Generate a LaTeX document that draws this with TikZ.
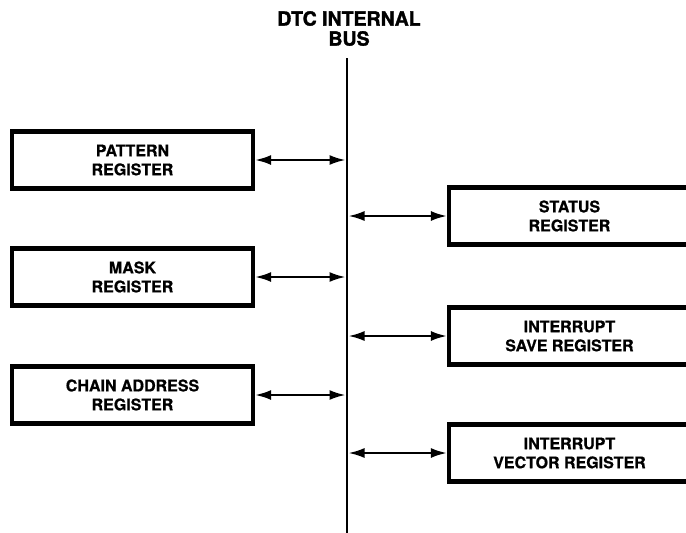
\documentclass[tikz,border=0pt]{standalone}
\usepackage{fontspec}
\setmainfont{TeX Gyre Heros}[BoldFeatures={FakeBold=0.8}]
\newfontfamily\headfont{TeX Gyre Heros Bold}[FakeBold=1.6]
\usetikzlibrary{arrows.meta}
\usetikzlibrary{positioning}

\begin{document}
\begin{tikzpicture}[x=1pt,y=-1pt,
  reg/.style={draw, line width=4.2pt, minimum width=241pt, minimum height=57pt,
              inner sep=0pt, align=center, font=\bfseries\fontsize{16}{19}\selectfont},
  link/.style={{Latex[length=16pt,width=10pt]}-{Latex[length=16pt,width=10pt]}, line width=2.2pt}]

\useasboundingbox (0,0) rectangle (686,533);
\clip (0,0) rectangle (686,533);

%---------------------------------------
% Positions
%---------------------------------------
\def\busx{347}
\def\leftx{132.5}
\def\rightx{569.5}

%====================================================
% Internal bus
%====================================================
\node[font=\headfont\fontsize{19.5}{20}\selectfont, align=center] (title) at (\busx+2,28.5) {DTC INTERNAL\\BUS};
\coordinate (bustop) at (\busx,58);
\coordinate (busbot) at (\busx,540);
\draw[line width=2.4pt] (bustop) -- (busbot);

%====================================================
% Left registers
%====================================================
\node[reg] (pattern) at (\leftx,160) {PATTERN\\REGISTER};
\node[reg] (mask)    at (\leftx,277) {MASK\\REGISTER};
\node[reg] (chain)   at (\leftx,395) {CHAIN ADDRESS\\REGISTER};

\coordinate (bpattern) at (\busx-1.5,160);
\coordinate (bmask)    at (\busx-1.5,277);
\coordinate (bchain)   at (\busx-1.5,395);

\draw[link] (pattern.east) -- (bpattern);
\draw[link] (mask.east)    -- (bmask);
\draw[link] (chain.east)   -- (bchain);

%====================================================
% Right registers (cut at the page edge)
%====================================================
\node[reg] (status)  at (\rightx,216) {STATUS\\REGISTER};
\node[reg] (save)    at (\rightx,336) {INTERRUPT\\SAVE REGISTER};
\node[reg] (vector)  at (\rightx,453) {INTERRUPT\\VECTOR REGISTER};

\coordinate (bstatus) at (\busx+1.5,216);
\coordinate (bsave)   at (\busx+1.5,336);
\coordinate (bvector) at (\busx+1.5,453);

\draw[link] (bstatus) -- (status.west);
\draw[link] (bsave)   -- (save.west);
\draw[link] (bvector) -- (vector.west);

\end{tikzpicture}
\end{document}
